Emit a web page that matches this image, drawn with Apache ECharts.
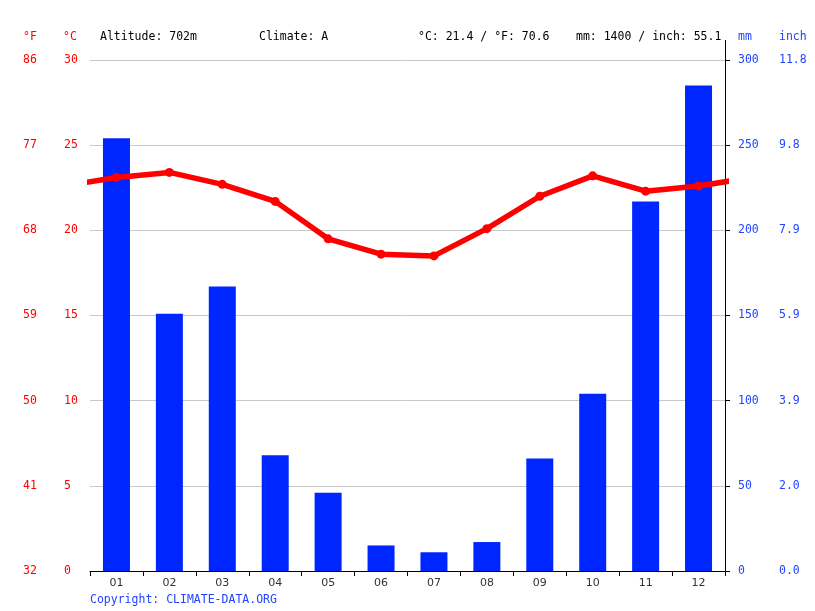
<!DOCTYPE html>
<html>
<head>
<meta charset="utf-8">
<script src="https://cdn.jsdelivr.net/npm/echarts@6/dist/echarts.min.js"></script>
<style>
html,body{margin:0;padding:0;background:#fff;}
#chart{width:815px;height:611px;}
</style>
</head>
<body>
<div id="chart"></div>
<script>
var months = ['01','02','03','04','05','06','07','08','09','10','11','12'];
var precipMm = [254, 151, 167, 68, 46, 15, 11, 17, 66, 104, 217, 285];
var tempC = [23.1, 23.4, 22.7, 21.7, 19.5, 18.6, 18.5, 20.1, 22.0, 23.2, 22.3, 22.6];
var celsiusTicks = ['0','5','10','15','20','25','30'];
var fahrenheitTicks = ['32','41','50','59','68','77','86'];
var mmTicks = ['0','50','100','150','200','250','300'];
var inchTicks = ['0.0','2.0','3.9','5.9','7.9','9.8','11.8'];

var MONO = '"DejaVu Sans Mono", monospace';
var RED = '#ff0000';
var BLUE = '#0026ff';
var BLUE_TXT = '#2244ff';

// temperature line with wrap-around segments at both ends
var lineData = [];
lineData.push({value: [-0.5, tempC[11]], symbol: 'none'});
for (var i = 0; i < tempC.length; i++) lineData.push([i + 0.5, tempC[i]]);
lineData.push({value: [12.5, tempC[0]], symbol: 'none'});

var chart = echarts.init(document.getElementById('chart'), null, {renderer: 'canvas'});
chart.setOption({
  animation: false,
  backgroundColor: '#fff',
  grid: {left: 90, right: 90, top: 60, bottom: 40, containLabel: false},
  xAxis: [
    {
      type: 'category', data: months, boundaryGap: true,
      axisLine: {show: true, lineStyle: {color: '#000', width: 1}},
      axisTick: {show: true, inside: false, length: 5, lineStyle: {color: '#000'}},
      axisLabel: {color: '#333', fontFamily: '"DejaVu Sans", sans-serif', fontSize: 11, margin: 7},
      splitLine: {show: false}
    },
    {type: 'value', min: 0, max: 12, show: false}
  ],
  yAxis: [
    {
      type: 'value', position: 'left', min: 0, max: 30, interval: 5,
      axisLine: {show: false}, axisTick: {show: false},
      splitLine: {show: true, lineStyle: {color: '#c8c8c8', width: 1}},
      axisLabel: {color: RED, fontFamily: MONO, fontSize: 11.5, align: 'left', margin: 26,
        formatter: function (v) { return celsiusTicks[Math.round(v / 5)]; }}
    },
    {
      type: 'value', position: 'left', min: 0, max: 30, interval: 5,
      axisLine: {show: false}, axisTick: {show: false}, splitLine: {show: false},
      axisLabel: {color: RED, fontFamily: MONO, fontSize: 11.5, align: 'center', margin: 60,
        formatter: function (v) { return fahrenheitTicks[Math.round(v / 5)]; }}
    },
    {
      type: 'value', position: 'right', min: 0, max: 300, interval: 50,
      axisLine: {show: true, lineStyle: {color: '#000', width: 1}},
      axisTick: {show: true, inside: false, length: 5, lineStyle: {color: '#000'}},
      splitLine: {show: false},
      axisLabel: {color: BLUE_TXT, fontFamily: MONO, fontSize: 11.5, align: 'left', margin: 13,
        formatter: function (v) { return mmTicks[Math.round(v / 50)]; }}
    },
    {
      type: 'value', position: 'right', min: 0, max: 300, interval: 50,
      axisLine: {show: false}, axisTick: {show: false}, splitLine: {show: false},
      axisLabel: {color: BLUE_TXT, fontFamily: MONO, fontSize: 11.5, align: 'left', margin: 54,
        formatter: function (v) { return inchTicks[Math.round(v / 50)]; }}
    }
  ],
  series: [
    {
      type: 'bar', xAxisIndex: 0, yAxisIndex: 2, data: precipMm,
      barWidth: 27, itemStyle: {color: BLUE}, z: 2
    },
    {
      type: 'line', xAxisIndex: 1, yAxisIndex: 0, data: lineData,
      clip: true, symbol: 'circle', symbolSize: 9, showSymbol: true,
      lineStyle: {color: RED, width: 5.5}, itemStyle: {color: RED}, z: 3
    }
  ],
  graphic: [
    {type: 'line', shape: {x1: 725.5, y1: 40, x2: 725.5, y2: 60}, style: {stroke: '#000', lineWidth: 1}},
    {type: 'text', left: 23, top: 31, style: {text: '°F', fill: RED, font: '11.5px ' + MONO}},
    {type: 'text', left: 63, top: 31, style: {text: '°C', fill: RED, font: '11.5px ' + MONO}},
    {type: 'text', left: 100, top: 31, style: {text: 'Altitude: 702m', fill: '#000', font: '11.5px ' + MONO}},
    {type: 'text', left: 259, top: 31, style: {text: 'Climate: A', fill: '#000', font: '11.5px ' + MONO}},
    {type: 'text', left: 418, top: 31, style: {text: '°C: 21.4 / °F: 70.6', fill: '#000', font: '11.5px ' + MONO}},
    {type: 'text', left: 576, top: 31, style: {text: 'mm: 1400 / inch: 55.1', fill: '#000', font: '11.5px ' + MONO}},
    {type: 'text', left: 738, top: 31, style: {text: 'mm', fill: BLUE_TXT, font: '11.5px ' + MONO}},
    {type: 'text', left: 779, top: 31, style: {text: 'inch', fill: BLUE_TXT, font: '11.5px ' + MONO}},
    {type: 'text', left: 90, top: 594, style: {text: 'Copyright: CLIMATE-DATA.ORG', fill: BLUE_TXT, font: '11.5px ' + MONO}}
  ]
});
</script>
</body>
</html>
